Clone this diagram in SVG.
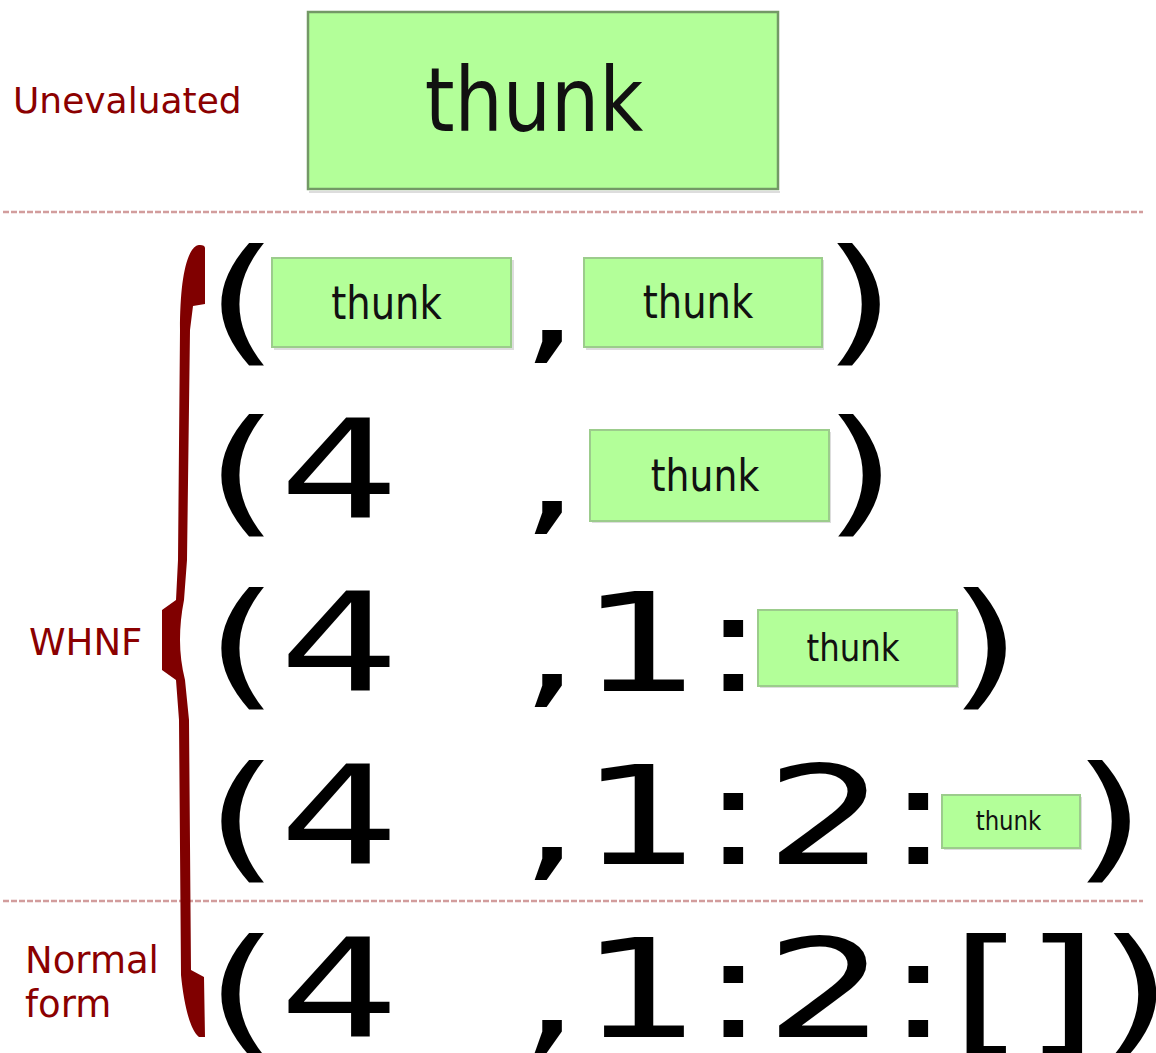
<svg xmlns="http://www.w3.org/2000/svg" width="1156" height="1053" viewBox="0 0 1156 1053">
<style>
.big{font-family:"DejaVu Sans","Liberation Sans",sans-serif;font-size:138px;fill:#000}
.th{font-family:"DejaVu Sans","Liberation Sans",sans-serif;fill:#111;text-anchor:middle}
.lbl{font-family:"DejaVu Sans","Liberation Sans",sans-serif;fill:#8b0000;font-size:37px}
.box{fill:#b3ff99;stroke:#9ccc8c;stroke-width:2}
.shadow{fill:#cfcfcf;opacity:0.7}
.sep{stroke:#d29d9d;stroke-width:2.5;stroke-dasharray:6 2;fill:none}
</style>

<g id="separators">
<line class="sep" x1="3" y1="212" x2="1143" y2="212"/>
<line class="sep" x1="3" y1="901" x2="1143" y2="901"/>
</g>

<g id="labels">
<text id="label-unevaluated" class="lbl" x="13" y="113" style="font-size:36px">Unevaluated</text>
<text id="label-whnf" class="lbl" x="29" y="655">WHNF</text>
<text id="label-normal" class="lbl" x="25" y="973">Normal<tspan x="25" y="1017">form</tspan></text>
</g>

<path id="brace" fill="#800000" d="M200,245 C203,245 205,246 205,248 L205,304 L193,306 L190,330 L187,560 L184,600 Q180,620 180,640 Q180,660 185,680 L189,720 L191,970 L204,977 L205,1037 L199,1037 C190,1030 184,1005 181,975 L179,720 L176,680 L162,670 L162,610 L176,600 L178,560 L180,330 C180,290 184,262 192,250 C195,246 197,245 200,245 Z"/>

<g id="node-top-thunk">
<rect x="309" y="191" width="471" height="2" class="shadow"/>
<rect x="308" y="12" width="470" height="177" fill="#b3ff99" stroke="#739966" stroke-width="2.5"/>
<text class="th" font-size="89" transform="translate(534,131) scale(0.855,1)">thunk</text>
</g>

<g id="row1">
<text class="big" transform="translate(205,347) scale(1.377,1)">(</text>
<g id="node-r1-thunk1">
<rect x="274" y="260" width="240" height="90" class="shadow"/>
<rect x="272" y="258" width="239" height="89" class="box"/>
<text class="th" font-size="47" transform="translate(386.5,319) scale(0.82,1)">thunk</text>
</g>
<text class="big" transform="translate(520,347) scale(1.377,1)">,</text>
<g id="node-r1-thunk2">
<rect x="586" y="260" width="238" height="90" class="shadow"/>
<rect x="584" y="258" width="238" height="89" class="box"/>
<text class="th" font-size="47" transform="translate(698,318) scale(0.82,1)">thunk</text>
</g>
<text class="big" transform="translate(822,347) scale(1.377,1)">)</text>
</g>

<g id="row2">
<text class="big" transform="translate(205,518) scale(1.377,1)">(4</text>
<text class="big" transform="translate(520,518) scale(1.377,1)">,</text>
<g id="node-r2-thunk">
<rect x="592" y="432" width="239" height="91" class="shadow"/>
<rect x="590" y="430" width="239" height="91" class="box"/>
<text class="th" font-size="45" transform="translate(705,491) scale(0.84,1)">thunk</text>
</g>
<text class="big" transform="translate(823,518) scale(1.377,1)">)</text>
</g>

<g id="row3">
<text class="big" transform="translate(205,691) scale(1.377,1)">(4</text>
<text class="big" transform="translate(520,691) scale(1.377,1)">,1:</text>
<g id="node-r3-thunk">
<rect x="760" y="612" width="199" height="76" class="shadow"/>
<rect x="758" y="610" width="199" height="76" class="box"/>
<text class="th" font-size="37" transform="translate(853,661) scale(0.875,1)">thunk</text>
</g>
<text class="big" transform="translate(948,691) scale(1.377,1)">)</text>
</g>

<g id="row4">
<text class="big" transform="translate(205,864) scale(1.377,1)">(4</text>
<text class="big" transform="translate(520,864) scale(1.377,1)">,1:2:</text>
<g id="node-r4-thunk">
<rect x="944" y="797" width="138" height="53" class="shadow"/>
<rect x="942" y="795" width="138" height="53" class="box"/>
<text class="th" font-size="26" transform="translate(1008.5,830) scale(0.88,1)">thunk</text>
</g>
<text class="big" transform="translate(1072,864) scale(1.377,1)">)</text>
</g>

<g id="row5">
<text class="big" transform="translate(205,1037) scale(1.377,1)">(4</text>
<text class="big" transform="translate(520,1037) scale(1.377,1)">,1:2:[])</text>
</g>
</svg>
